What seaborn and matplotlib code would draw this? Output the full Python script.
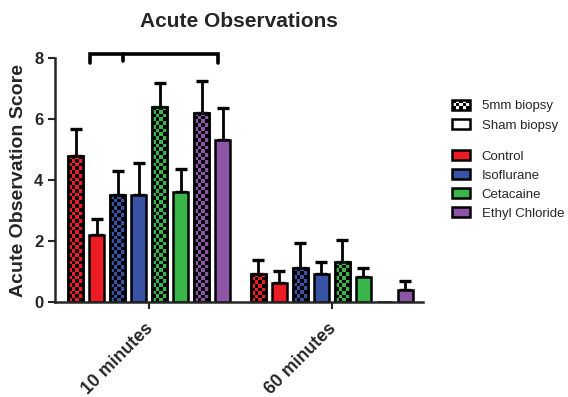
import numpy as np
import pandas as pd
import matplotlib
matplotlib.use("Agg")
import matplotlib.pyplot as plt
import matplotlib.transforms as mtransforms
import seaborn as sns
from matplotlib.patches import Rectangle, Patch
from matplotlib.legend_handler import HandlerBase

# --- Data ---

times = ["10 minutes", "60 minutes"]
treatments = ["Control", "Isoflurane", "Cetacaine", "Ethyl Chloride"]
biopsies = ["5mm biopsy", "Sham biopsy"]

means_10 = [4.8, 2.2, 3.5, 3.5, 6.4, 3.6, 6.2, 5.3]
sem_10 = [0.87, 0.52, 0.80, 1.05, 0.77, 0.76, 1.04, 1.07]
means_60 = [0.92, 0.63, 1.13, 0.92, 1.33, 0.82, 0.0, 0.41]
sem_60 = [0.47, 0.40, 0.82, 0.39, 0.71, 0.30, 0.0, 0.28]

colors = ["#ED1C24", "#3953A4", "#39B54A", "#8C55A5"]

# bracket annotation (data coords)
BRACKET_X = (-0.323, -0.142, 0.378)
BRACKET_Y = (8.13, 7.84)

# --- Build tidy frame ---

groups = [f"{t} {b}" for t in treatments for b in biopsies]
rows = []
for ti, (mvals, svals) in enumerate([(means_10, sem_10), (means_60, sem_60)]):
    for gi, g in enumerate(groups):
        rows.append({"time": times[ti], "group": g, "score": mvals[gi], "sem": svals[gi]})
df = pd.DataFrame(rows)

palette = {f"{t} {b}": c for t, c in zip(treatments, colors) for b in biopsies}

sns.set_style("ticks")
plt.rcParams["font.family"] = ["Liberation Sans", "DejaVu Sans"]

fig = plt.figure(figsize=(5.68, 3.97), dpi=100)
ax = fig.add_axes([0.097, 0.239, 0.648, 0.615])

sns.barplot(data=df, x="time", y="score", hue="group", hue_order=groups,
            order=times, palette=palette, width=0.92, gap=0.29,
            errorbar=None, edgecolor="black", linewidth=1.8, saturation=1,
            legend=False, ax=ax)

ax.set_xlim(-0.515, 1.50)
ax.set_ylim(0, 8)

# --- checker fill + error bars ---
fig.canvas.draw()
bar_containers = list(ax.containers)
for gi, cont in enumerate(bar_containers):
    bars = sorted(cont.patches, key=lambda p: p.get_x())
    color = matplotlib.colors.to_rgb(colors[gi // 2])
    hatched = gi % 2 == 0
    for ti, bar in enumerate(bars):
        x0, w, h = bar.get_x(), bar.get_width(), bar.get_height()
        err = df[(df.time == times[ti]) & (df.group == groups[gi])]["sem"].iloc[0]
        if h <= 0:
            continue
        if hatched:
            (px0, py0), (px1, py1) = ax.transData.transform([(x0, 0), (x0 + w, h)])
            ncols = 4
            sq = (px1 - px0) / ncols
            nrows = max(1, int(round((py1 - py0) / sq)))
            ii, jj = np.mgrid[0:nrows, 0:ncols]
            mask = (ii + jj) % 2 == 0
            img = np.where(mask[..., None], np.array(color), np.zeros(3))
            ax.imshow(img, extent=(x0, x0 + w, 0, h), aspect="auto",
                      interpolation="nearest", origin="lower", zorder=bar.zorder + 0.1)
            ax.add_patch(Rectangle((x0, 0), w, h, fill=False, edgecolor="black",
                                   linewidth=1.8, zorder=bar.zorder + 0.2))
        if err > 0:
            ax.errorbar(x0 + w / 2, h, yerr=[[0], [err]], fmt="none", ecolor="black",
                        elinewidth=2.0, capsize=4.5, capthick=2.4, zorder=bar.zorder - 0.1)

ax.set_xlim(-0.515, 1.50)
ax.set_ylim(0, 8)

# bracket
lx, mx, rx = BRACKET_X
yt, yb = BRACKET_Y
ax.plot([lx, lx, rx, rx], [yb, yt, yt, yb], color="black", lw=2.6, clip_on=False,
        solid_joinstyle="miter")
ax.plot([mx, mx], [yt, yb + 0.05], color="black", lw=2.6, clip_on=False)

# --- axes styling ---
sns.despine(ax=ax)
for s in ["left", "bottom"]:
    ax.spines[s].set_linewidth(1.8)
ax.set_yticks([0, 2, 4, 6, 8])
ax.tick_params(axis="both", width=1.5, length=5, labelsize=12)
for lab in ax.get_yticklabels():
    lab.set_fontweight("bold")
ax.set_xticks([0, 1])
ax.set_xticklabels(times, rotation=45, ha="right", rotation_mode="anchor",
                   fontweight="bold", fontsize=12.8)
shift = mtransforms.ScaledTranslation(-3 / 72, -4 / 72, fig.dpi_scale_trans)
for lab in ax.get_xticklabels():
    lab.set_transform(lab.get_transform() + shift)
ax.set_xlabel("")
ax.set_ylabel("Acute Observation Score", fontsize=14, fontweight="bold", labelpad=5)
ax.set_title("Acute Observations", fontsize=15, fontweight="bold", pad=22)


# --- legend ---
class CheckerHandler(HandlerBase):
    def create_artists(self, legend, orig_handle, xdescent, ydescent,
                       width, height, fontsize, trans):
        x0, y0 = -xdescent, -ydescent
        arts = [Rectangle((x0, y0), width, height, facecolor="white",
                          edgecolor="none", transform=trans)]
        nc, nr = 5, 3
        cw, ch = width / nc, height / nr
        for i in range(nr):
            for j in range(nc):
                if (i + j) % 2 == 0:
                    arts.append(Rectangle((x0 + j * cw, y0 + i * ch), cw, ch,
                                          facecolor="black", edgecolor="none",
                                          transform=trans))
        arts.append(Rectangle((x0, y0), width, height, fill=False,
                              edgecolor="black", linewidth=1.8, transform=trans))
        return arts


legend_kw = dict(loc="upper left", frameon=False, fontsize=9.5, handlelength=1.35,
                 handleheight=0.75, labelspacing=0.5, handletextpad=0.9,
                 borderpad=0, borderaxespad=0)

checker = Patch(label=biopsies[0])
style_handles = [checker,
                 Patch(facecolor="white", edgecolor="black", linewidth=1.8, label=biopsies[1])]
fig.legend(handles=style_handles, bbox_to_anchor=(0.796, 0.748),
           handler_map={checker: CheckerHandler()}, **legend_kw)

color_handles = [Patch(facecolor=c, edgecolor="black", linewidth=1.8, label=t)
                 for t, c in zip(treatments, colors)]
fig.legend(handles=color_handles, bbox_to_anchor=(0.796, 0.622), **legend_kw)

fig.savefig("out.png", dpi=100)
